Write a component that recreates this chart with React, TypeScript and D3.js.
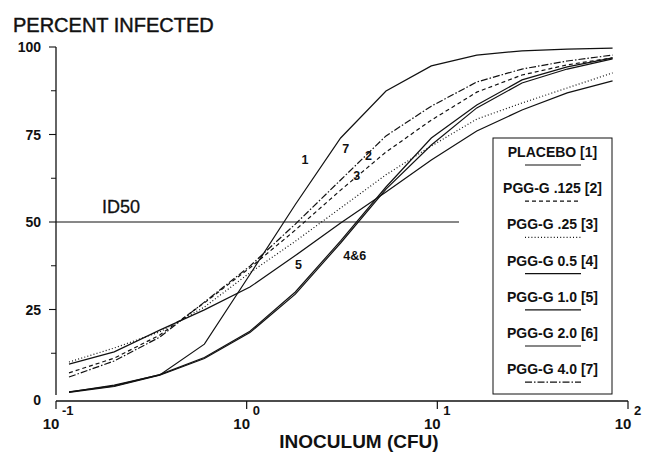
import React from "react";
import * as d3 from "d3";

const doses = [0.117, 0.202, 0.35, 0.6, 1.04, 1.8, 3.11, 5.38, 9.3, 16.1, 27.8, 48.0, 83.0];
const placebo = [1.4, 3.4, 6.3, 15.1, 35, 55, 74, 87.4, 94.6, 97.7, 98.9, 99.4, 99.7];
const pgg125 = [6.9, 11.1, 17.7, 26.9, 36.9, 47.7, 59.1, 70, 79.1, 87.1, 92, 94.9, 96.9];
const pgg25 = [10, 14, 18.6, 25.7, 35.5, 44.5, 54, 63.5, 71.7, 79.4, 84, 88.3, 92.6];
const pgg05 = [1.3, 3.0, 6.2, 11.0, 18.4, 29.4, 44.0, 59.4, 72, 82.6, 89.7, 93.7, 96.6];
const pgg10 = [9.4, 12.9, 19.1, 24.9, 31.4, 40.4, 49.7, 58.6, 67.7, 76, 82, 86.9, 90.3];
const pgg20 = [1.5, 3.2, 6.4, 11.3, 18.8, 30, 44.6, 60, 74, 83.4, 90.6, 94.3, 96.9];
const pgg40 = [5.7, 10.3, 17.1, 27.1, 37.4, 49.4, 62, 74.6, 83.1, 90, 93.7, 96, 97.7];

const seriesNames = ["PLACEBO [1]", "PGG-G .125 [2]", "PGG-G .25 [3]", "PGG-G 0.5 [4]", "PGG-G 1.0 [5]", "PGG-G 2.0 [6]", "PGG-G 4.0 [7]"];
const seriesValues = [placebo, pgg125, pgg25, pgg05, pgg10, pgg20, pgg40];
const seriesDash = ["none", "4,3", "1,2.2", "none", "none", "none", "7,2,1.5,2"];

const yTicks = [0, 25, 50, 75, 100];
const yMinor = [12.5, 37.5, 62.5, 87.5];
const xTicks = [0.1, 1, 10, 100];
const xExp = ["-1", "0", "1", "2"];

const curveLabels = [
  { text: "1", x: 2.02, y: 68 },
  { text: "7", x: 3.31, y: 71 },
  { text: "2", x: 4.36, y: 69 },
  { text: "3", x: 3.78, y: 63.3 },
  { text: "5", x: 1.87, y: 38 },
  { text: "4&6", x: 3.69, y: 40.5 },
];
const id50 = 50;

const FONT = "'Liberation Sans', Arial, Helvetica, sans-serif";

export default function App() {
  const x = d3.scaleLog().domain([0.1, 100]).range([56, 628]);
  const y = d3.scaleLinear().domain([0, 100]).range([397, 47]);
  const line = d3
    .line<number>()
    .x((_, i) => x(doses[i]))
    .y((d) => y(d));

  const legX = 493, legY = 138, legW = 119, legH = 256;
  const legStep = 36.2;

  return (
    <svg width={653} height={459} style={{ position: "absolute", left: 0, top: 0, background: "#fff" }} fontFamily={FONT}>
      <rect width={653} height={459} fill="#fff" />
      {/* title */}
      <text x={13} y={32} fontSize={20} fill="#111" stroke="#111" strokeWidth={0.45}>PERCENT INFECTED</text>
      {/* y axis */}
      <line x1={56} x2={56} y1={y(100)} y2={y(0) - 2} stroke="#111" strokeWidth={1.3} />
      {yTicks.filter((t) => t > 0).map((t) => (
        <line key={t} x1={49} x2={56} y1={y(t)} y2={y(t)} stroke="#111" strokeWidth={1.1} />
      ))}
      {yMinor.map((t) => (
        <line key={t} x1={51} x2={56} y1={y(t)} y2={y(t)} stroke="#111" strokeWidth={1} />
      ))}
      {yTicks.map((t) => (
        <text key={t} x={41} y={y(t) + (t === 0 ? 3 : 0)} dy="0.36em" textAnchor="end" fontSize={14} fontWeight="bold" fill="#111">{t}</text>
      ))}
      {/* x axis */}
      <line x1={56} x2={628} y1={401} y2={401} stroke="#111" strokeWidth={1.3} />
      {xTicks.map((t, i) => (
        <g key={t}>
          <line x1={x(t)} x2={x(t)} y1={401} y2={409} stroke="#111" strokeWidth={1.2} />
          <text x={x(t) - 5} y={429} textAnchor="middle" fontSize={15} fontWeight="bold" fill="#111">10</text>
          <text x={x(t) + 6} y={415} fontSize={13} fontWeight="bold" fill="#111">{xExp[i]}</text>
        </g>
      ))}
      <text x={359} y={448} textAnchor="middle" fontSize={19} fontWeight="bold" fill="#111">INOCULUM (CFU)</text>
      {/* ID50 */}
      <line x1={56} x2={459} y1={y(id50)} y2={y(id50)} stroke="#111" strokeWidth={1} />
      <text x={102} y={213} fontSize={18} fill="#111" stroke="#111" strokeWidth={0.3}>ID50</text>
      {/* curves */}
      {seriesValues.map((vals, i) => (
        <path key={i} d={line(vals) || ""} fill="none" stroke="#111" strokeWidth={1.2} strokeDasharray={seriesDash[i]} />
      ))}
      {curveLabels.map((l) => (
        <text key={l.text} x={x(l.x)} y={y(l.y)} dy="0.36em" textAnchor="middle" fontSize={12.5} fontWeight="bold" fill="#111">{l.text}</text>
      ))}
      {/* legend */}
      <rect x={legX} y={legY} width={legW} height={legH} fill="#fff" stroke="#111" strokeWidth={1} />
      {seriesNames.map((n, i) => (
        <g key={n}>
          <text x={legX + legW / 2} y={157 + i * legStep} textAnchor="middle" fontSize={14} fontWeight="bold" fill="#111">{n}</text>
          <line x1={525} x2={581} y1={165 + i * legStep} y2={165 + i * legStep} stroke="#111" strokeWidth={1.2} strokeDasharray={seriesDash[i]} />
        </g>
      ))}
    </svg>
  );
}
